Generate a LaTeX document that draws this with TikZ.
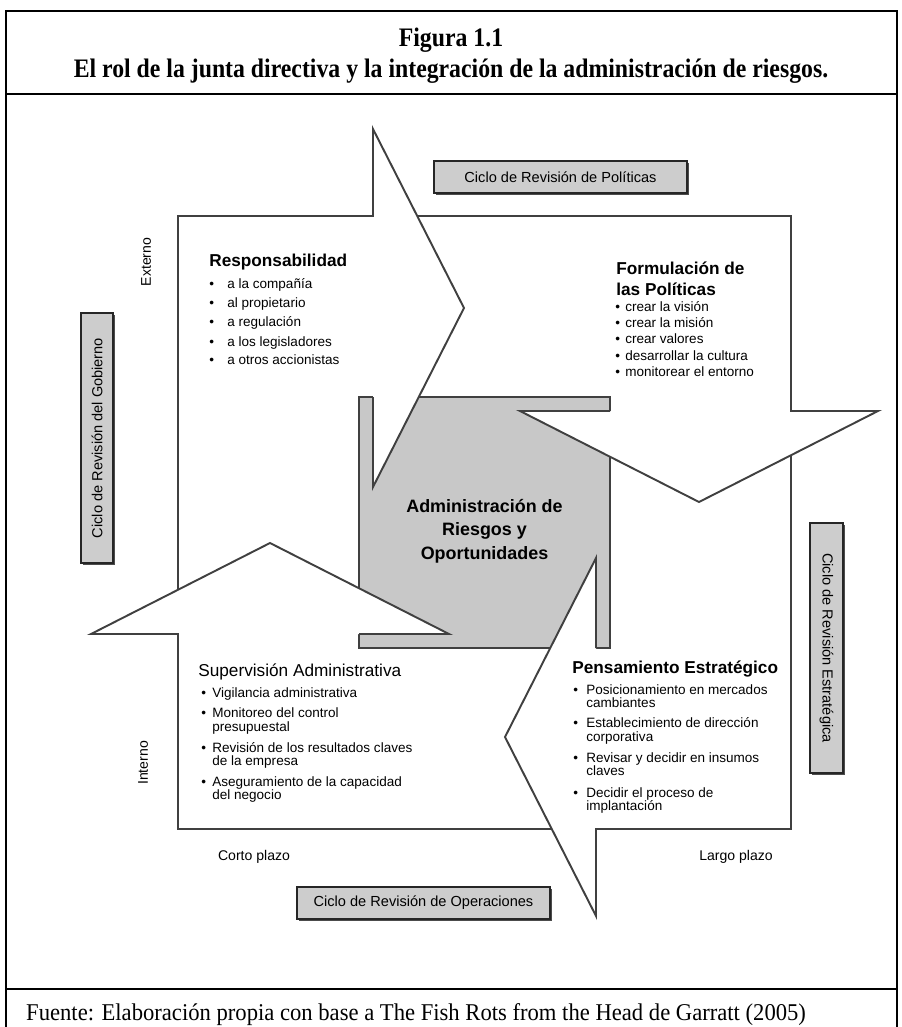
\documentclass[tikz,border=0pt]{standalone}
\usepackage{fontspec}
\setmainfont{Liberation Serif}
\setsansfont{Liberation Sans}
\newfontfamily\condserif[FakeStretch=0.89]{Liberation Serif}
\newfontfamily\srcserif[FakeStretch=0.94]{Liberation Serif}
\usepackage{tikz}
\usetikzlibrary{shadows}
\definecolor{edgegray}{RGB}{64,64,64}
\definecolor{coregray}{RGB}{200,200,200}
\definecolor{cyclegray}{RGB}{205,205,205}

\begin{document}
\begin{tikzpicture}[x=0.02cm,y=-0.02cm,font=\sffamily,
  outline/.style={draw=edgegray,line width=1.1pt,line join=miter},
  blockhead/.style={font=\sffamily\bfseries\fontsize{9.8}{11}\selectfont,anchor=base west,inner sep=0pt},
  plainhead/.style={blockhead,font=\sffamily\fontsize{9.8}{11}\selectfont},
  listtext/.style={font=\sffamily\fontsize{7.7}{9}\selectfont,anchor=base west,inner sep=0pt},
  sidelabel/.style={font=\sffamily\fontsize{8}{9}\selectfont,inner sep=0pt},
  cyclebox/.style={draw=black!85,line width=0.9pt,fill=cyclegray,inner sep=0pt,
    font=\sffamily\fontsize{8.3}{9}\selectfont,
    drop shadow={shadow xshift=1.1pt,shadow yshift=-1.1pt,opacity=1,fill=black!70}}]

  \useasboundingbox (0,0) rectangle (902,1027);

  %,  Frame, title and source, 
  \draw[line width=0.8pt] (6,1027) -- (6,11) -- (897,11) -- (897,1027);
  \draw[line width=0.8pt] (6,94) -- (897,94);
  \draw[line width=0.8pt] (6,989) -- (897,989);
  \node[font=\condserif\bfseries\fontsize{15.2}{17}\selectfont,anchor=base] (fig) at (451,47)
    {Figura 1.1};
  \node[font=\condserif\bfseries\fontsize{15.2}{17}\selectfont,anchor=base] (title) at (451,78)
    {El rol de la junta directiva y la integración de la administración de riesgos.};
  \node[font=\srcserif\fontsize{13.7}{16}\selectfont,anchor=base west] (source) at (20,1020)
    {Fuente: Elaboración propia con base a The Fish Rots from the Head de Garratt (2005)};

  %,  Grey centre, 
  \coordinate (C) at (484.5,522.5);
  \filldraw[fill=coregray,outline] (359,397) rectangle (610,648);

  %,  Four arrows round the centre (one drawn, three turned), 
  \foreach \ang in {0,-90,180,90}
    \fill[white,rotate around={\ang:(C)}] (878,411) -- (699,502) -- (520,411) -- cycle;
  \foreach \ang in {0,-90,180,90}
    \draw[outline,rotate around={\ang:(C)}]
      (417,216) -- (791,216) -- (791,411) -- (878,411) -- (699,502) -- (520,411) -- (610,411);

  \node[font=\sffamily\bfseries\fontsize{10.2}{13.4}\selectfont,align=center] (core) at (484.5,531)
    {Administración de\\Riesgos y\\Oportunidades};

  %,  Responsabilidad, 
  \node[blockhead] (resp) at (209,266) {Responsabilidad};
  \foreach \y/\txt [count=\i] in {288/a la compañía,307/al propietario,326/a regulación,
                                  346/a los legisladores,364/a otros accionistas}{
    \node[listtext] (respdot\i) at (209,\y) {\textbullet};
    \node[listtext] (respitem\i) at (227,\y) {\txt};
  }

  %,  Formulación de las Políticas, 
  \node[blockhead] (form1) at (616,274) {Formulación de};
  \node[blockhead] (form2) at (616,295) {las Políticas};
  \foreach \y/\txt [count=\i] in {311/crear la visión,327/crear la misión,343/crear valores,
                                  360/desarrollar la cultura,376/monitorear el entorno}{
    \node[listtext] (formdot\i) at (615,\y) {\textbullet};
    \node[listtext] (formitem\i) at (625,\y) {\txt};
  }

  %,  Supervisión Administrativa, 
  \node[plainhead] (sup) at (198,676) {Supervisión Administrativa};
  \foreach \y/\b/\txt [count=\i] in {697/1/Vigilancia administrativa,717/1/Monitoreo del control,
                                     731/0/presupuestal,752/1/Revisión de los resultados claves,
                                     765/0/de la empresa,786/1/Aseguramiento de la capacidad,
                                     799/0/del negocio}{
    \ifnum\b=1 \node[listtext] (supdot\i) at (201,\y) {\textbullet}; \fi
    \node[listtext] (supitem\i) at (212,\y) {\txt};
  }

  %,  Pensamiento Estratégico, 
  \node[blockhead] (pens) at (572,673) {Pensamiento Estratégico};
  \foreach \y/\b/\txt [count=\i] in {694/1/Posicionamiento en mercados,707/0/cambiantes,
                                     727/1/Establecimiento de dirección,741/0/corporativa,
                                     762/1/Revisar y decidir en insumos,775/0/claves,
                                     797/1/Decidir el proceso de,810/0/implantación}{
    \ifnum\b=1 \node[listtext] (pensdot\i) at (573,\y) {\textbullet}; \fi
    \node[listtext] (pensitem\i) at (586,\y) {\txt};
  }

  %,  Axis words, 
  \node[sidelabel,rotate=90] (ext) at (146,262) {Externo};
  \node[sidelabel,rotate=90] (int) at (143,763) {Interno};
  \node[sidelabel] (short) at (254,857) {Corto plazo};
  \node[sidelabel] (long) at (736,857) {Largo plazo};

  %,  Review cycles, 
  \node[cyclebox,minimum width=5.06cm,minimum height=0.64cm] (polit) at (560.5,177)
    {Ciclo de Revisión de Políticas};
  \node[cyclebox,minimum width=0.64cm,minimum height=5cm] (gob) at (97,438)
    {\rotatebox{90}{Ciclo de Revisión del Gobierno}};
  \node[cyclebox,minimum width=0.66cm,minimum height=5cm] (estr) at (826.5,648)
    {\rotatebox{-90}{Ciclo de Revisión Estratégica}};
  \node[cyclebox,minimum width=5.06cm,minimum height=0.64cm] (oper) at (423.5,903)
    {Ciclo de Revisión de Operaciones};

\end{tikzpicture}
\end{document}
